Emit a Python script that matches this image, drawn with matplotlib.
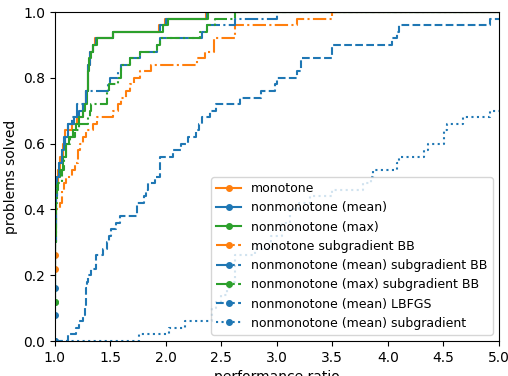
import matplotlib
matplotlib.use("Agg")
import matplotlib.pyplot as plt

# performance profile step data (ratio where the fraction steps up, fraction solved)
mono_x = [1.0, 1.005, 1.01, 1.03, 1.05, 1.07, 1.09, 1.15, 1.2, 1.25, 1.28, 1.3, 1.32, 1.34, 1.36, 1.52, 1.94, 1.99, 2.36, 5.0]
mono_y = [0.26, 0.40, 0.48, 0.52, 0.56, 0.60, 0.64, 0.66, 0.68, 0.72, 0.76, 0.84, 0.88, 0.90, 0.92, 0.94, 0.96, 0.98, 1.0, 1.0]

mean_x = [1.0, 1.005, 1.01, 1.02, 1.04, 1.06, 1.08, 1.12, 1.17, 1.22, 1.25, 1.28, 1.3, 1.32, 1.34, 1.37, 1.52, 1.95, 2.0, 2.37, 5.0]
mean_y = [0.16, 0.34, 0.46, 0.50, 0.54, 0.58, 0.62, 0.66, 0.68, 0.70, 0.72, 0.76, 0.84, 0.88, 0.90, 0.92, 0.94, 0.96, 0.98, 1.0, 1.0]

max_x = [1.0, 1.005, 1.01, 1.02, 1.05, 1.07, 1.1, 1.13, 1.16, 1.19, 1.22, 1.25, 1.27, 1.29, 1.3, 1.31, 1.33, 1.345, 1.376, 1.525, 1.97, 2.02, 2.38, 5.0]
max_y = [0.12, 0.30, 0.44, 0.50, 0.52, 0.56, 0.60, 0.62, 0.64, 0.66, 0.68, 0.70, 0.72, 0.76, 0.82, 0.86, 0.88, 0.90, 0.92, 0.94, 0.96, 0.98, 1.0, 1.0]

mono_bb_x = [1.0, 1.005, 1.01, 1.05, 1.06, 1.08, 1.1, 1.15, 1.18, 1.21, 1.23, 1.25, 1.28, 1.34, 1.38, 1.52, 1.57, 1.6, 1.64, 1.68, 1.71, 1.77, 1.87, 2.28, 2.35, 2.43, 2.62, 3.18, 3.5, 5.0]
mono_bb_y = [0.22, 0.36, 0.40, 0.42, 0.46, 0.48, 0.50, 0.52, 0.54, 0.58, 0.60, 0.62, 0.64, 0.66, 0.68, 0.70, 0.72, 0.74, 0.76, 0.78, 0.80, 0.82, 0.84, 0.86, 0.88, 0.92, 0.96, 0.98, 1.0, 1.0]

mean_bb_x = [1.0, 1.005, 1.01, 1.02, 1.04, 1.06, 1.09, 1.12, 1.15, 1.2, 1.28, 1.48, 1.5, 1.57, 1.6, 1.68, 1.77, 1.92, 1.95, 2.33, 2.37, 2.62, 3.0, 5.0]
mean_bb_y = [0.08, 0.30, 0.44, 0.50, 0.54, 0.58, 0.62, 0.66, 0.68, 0.72, 0.76, 0.78, 0.80, 0.82, 0.84, 0.86, 0.88, 0.90, 0.92, 0.94, 0.96, 0.98, 1.0, 1.0]

max_bb_x = [1.0, 1.005, 1.01, 1.02, 1.03, 1.06, 1.08, 1.1, 1.14, 1.18, 1.22, 1.3, 1.32, 1.33, 1.47, 1.49, 1.57, 1.6, 1.68, 1.77, 1.92, 1.95, 2.31, 2.37, 2.44, 2.62, 5.0]
max_bb_y = [0.12, 0.30, 0.42, 0.46, 0.48, 0.52, 0.56, 0.60, 0.62, 0.64, 0.66, 0.68, 0.70, 0.72, 0.76, 0.78, 0.80, 0.84, 0.86, 0.88, 0.90, 0.92, 0.94, 0.96, 0.98, 1.0, 1.0]

lbfgs_x = [1.0, 1.12, 1.19, 1.22, 1.25, 1.27, 1.28, 1.29, 1.3, 1.33, 1.37, 1.43, 1.47, 1.49, 1.51, 1.55, 1.59, 1.74, 1.8, 1.82, 1.84, 1.9, 1.95, 2.06, 2.14, 2.2, 2.27, 2.3, 2.33, 2.4, 2.45, 2.67, 2.86, 2.98, 3.0, 3.18, 3.22, 3.5, 4.04, 4.08, 4.1, 4.92, 5.0]
lbfgs_y = [0.0, 0.02, 0.04, 0.06, 0.08, 0.10, 0.16, 0.18, 0.20, 0.22, 0.26, 0.28, 0.30, 0.32, 0.34, 0.36, 0.38, 0.42, 0.44, 0.46, 0.48, 0.50, 0.56, 0.58, 0.60, 0.62, 0.64, 0.66, 0.68, 0.70, 0.72, 0.74, 0.76, 0.78, 0.80, 0.82, 0.86, 0.90, 0.92, 0.94, 0.96, 0.98, 0.98]

subgrad_x = [1.0, 1.76, 2.03, 2.17, 2.42, 2.45, 2.5, 2.55, 2.59, 2.62, 2.8, 2.95, 3.05, 3.12, 3.2, 3.3, 3.5, 3.78, 3.85, 3.87, 4.08, 4.1, 4.33, 4.36, 4.51, 4.53, 4.68, 4.92, 5.0]
subgrad_y = [0.0, 0.02, 0.04, 0.06, 0.10, 0.12, 0.14, 0.16, 0.18, 0.26, 0.28, 0.32, 0.36, 0.40, 0.42, 0.44, 0.46, 0.48, 0.50, 0.52, 0.54, 0.56, 0.58, 0.60, 0.64, 0.66, 0.68, 0.70, 0.70]

series = [
    ("monotone", mono_x, mono_y, "C1", "-"),
    ("nonmonotone (mean)", mean_x, mean_y, "C0", "-"),
    ("nonmonotone (max)", max_x, max_y, "C2", "-"),
    ("monotone subgradient BB", mono_bb_x, mono_bb_y, "C1", "-."),
    ("nonmonotone (mean) subgradient BB", mean_bb_x, mean_bb_y, "C0", "-."),
    ("nonmonotone (max) subgradient BB", max_bb_x, max_bb_y, "C2", "-."),
    ("nonmonotone (mean) LBFGS", lbfgs_x, lbfgs_y, "C0", "--"),
    ("nonmonotone (mean) subgradient", subgrad_x, subgrad_y, "C0", ":"),
]

fig, ax = plt.subplots(figsize=(5.08, 3.76), dpi=100)
fig.subplots_adjust(left=0.108, right=0.982, top=0.968, bottom=0.093)

for label, xs, ys, color, ls in series:
    ax.step(xs, ys, where="post", color=color, linestyle=ls,
            marker="o", markersize=4, markevery=[0], label=label)

ax.set_xlim(1.0, 5.0)
ax.set_ylim(0.0, 1.0)
ax.set_xlabel("performance ratio")
ax.set_ylabel("problems solved")
ax.legend(loc="lower right", fontsize=9)

fig.savefig("out.png", dpi=100)
